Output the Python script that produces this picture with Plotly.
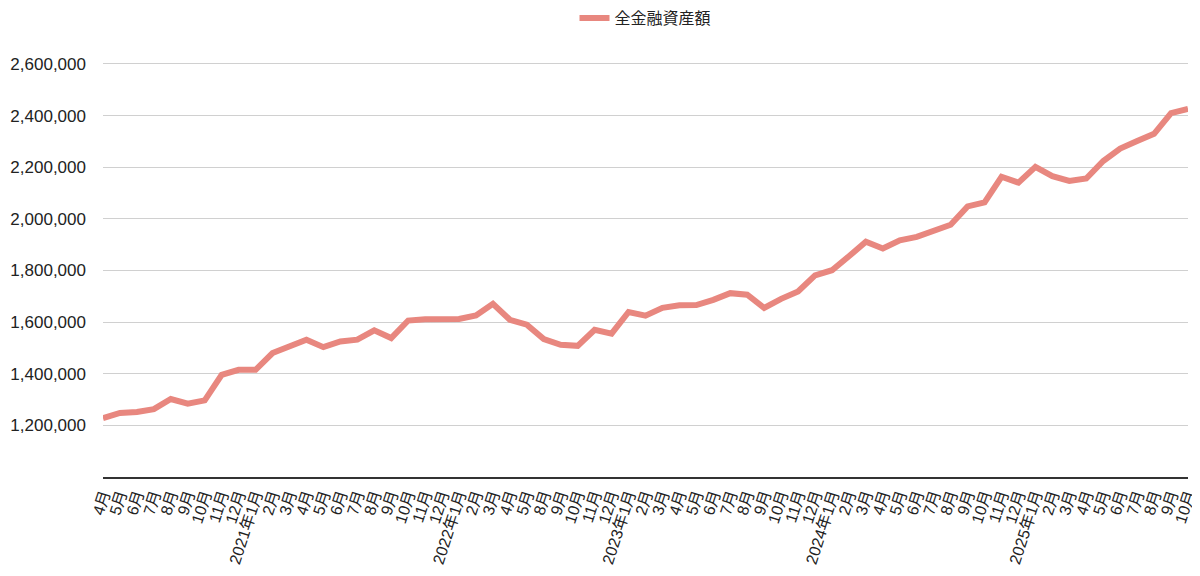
import plotly.graph_objects as go

# 月ラベル (2022年6月・7月はデータなし)
months = (
    [f"2020年{m}月" for m in range(4, 13)]
    + [f"2021年{m}月" for m in range(1, 13)]
    + [f"2022年{m}月" for m in [1, 2, 3, 4, 5, 8, 9, 10, 11, 12]]
    + [f"2023年{m}月" for m in range(1, 13)]
    + [f"2024年{m}月" for m in range(1, 13)]
    + [f"2025年{m}月" for m in range(1, 11)]
)

# 表示用ラベル: 1月だけ年を付ける
tick_text = [m if m.endswith("年1月") else m.split("年")[1] for m in months]

total_assets = [
    1228000, 1248000, 1252000, 1263000, 1302000, 1284000, 1297000, 1396000, 1415000,
    1415000, 1480000, 1508000, 1532000, 1503000, 1525000, 1532000, 1568000, 1538000,
    1606000, 1611000, 1613000,
    1612000, 1626000, 1671000, 1609000, 1590000, 1534000, 1512000, 1508000, 1570000,
    1555000,
    1639000, 1625000, 1655000, 1665000, 1666000, 1686000, 1712000, 1706000, 1655000,
    1690000, 1719000, 1781000,
    1801000, 1855000, 1911000, 1885000, 1917000, 1930000, 1956000, 1977000, 2048000,
    2064000, 2163000, 2140000,
    2201000, 2165000, 2147000, 2156000, 2224000, 2272000, 2301000, 2329000, 2409000,
    2426000,
]

y_ticks = [1200000, 1400000, 1600000, 1800000, 2000000, 2200000, 2400000, 2600000]

font = "Liberation Sans, Noto Sans CJK JP, sans-serif"

fig = go.Figure()
fig.add_trace(go.Scatter(
    x=months, y=total_assets, mode="lines", name="全金融資産額",
    line=dict(color="#E8877F", width=6),
))

# ページの余白 (8px) を差し引いたサイズ
fig.update_layout(
    width=1192, height=568,
    margin=dict(l=95, r=12, t=43, b=99),
    plot_bgcolor="white", paper_bgcolor="white",
    font=dict(family=font, color="#222"),
    showlegend=True,
    legend=dict(orientation="h", x=0.5, xanchor="center",
                y=1 - 10 / 568, yref="container", yanchor="middle",
                font=dict(size=16)),
    xaxis=dict(
        type="category", tickmode="array", tickvals=months, ticktext=tick_text,
        tickangle=-72, tickfont=dict(size=16), showgrid=False,
        showline=True, linecolor="#333", linewidth=2, ticks="",
        range=[0, len(months) - 1], automargin=False,
    ),
    yaxis=dict(
        range=[1000000, 2650000], tickvals=y_ticks, tickformat=",d",
        tickfont=dict(size=17), showgrid=True, gridcolor="#d0d0d0", gridwidth=1,
        zeroline=False, showline=False, ticklabelstandoff=16, automargin=False,
    ),
)

fig.write_html("out.html")
